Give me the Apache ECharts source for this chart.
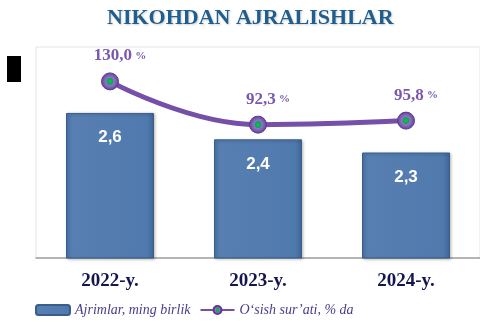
<!DOCTYPE html>
<html>
<head>
<meta charset="utf-8">
<script src="https://cdn.jsdelivr.net/npm/echarts@6/dist/echarts.min.js"></script>
<style>
  html, body { margin: 0; padding: 0; background: #ffffff; }
  #chart { width: 480px; height: 326px; }
</style>
</head>
<body>
<div id="chart"></div>
<script>
// Divorces by year (thousands) and growth rate (%)
const years = ['2022-y.', '2023-y.', '2024-y.'];
const divorces = [2.6, 2.4, 2.3];
const growth = [130.0, 92.3, 95.8];
const seriesNames = ['Ajrimlar, ming birlik', 'O‘sish sur’ati, % da'];
const titleText = 'NIKOHDAN AJRALISHLAR';

const fmt = v => v.toFixed(1).replace('.', ',');

const purple = '#7650A8';
const markerFill = {
  type: 'radial', x: 0.5, y: 0.5, r: 0.5,
  colorStops: [
    { offset: 0, color: '#12c060' },
    { offset: 0.34, color: '#0aa64e' },
    { offset: 0.42, color: '#9474c8' },
    { offset: 0.7, color: '#7d5cb4' },
    { offset: 1, color: '#5e418f' }
  ]
};

const chart = echarts.init(document.getElementById('chart'));
chart.setOption({
  animation: false,
  backgroundColor: '#ffffff',
  title: {
    text: titleText,
    left: 102,
    top: 2,
    textStyle: {
      fontFamily: 'Liberation Serif',
      fontWeight: 'bold',
      fontSize: 22,
      color: '#1F5E8E',
      textShadowColor: 'rgba(0,0,0,0.18)',
      textShadowBlur: 2,
      textShadowOffsetX: 1,
      textShadowOffsetY: 1
    }
  },
  graphic: [
    { type: 'rect', left: 7, top: 56, shape: { width: 14, height: 26 }, style: { fill: '#000000' } }
  ],
  legend: {
    left: 30,
    top: 298,
    itemGap: 9,
    itemWidth: 34,
    itemHeight: 10,
    textStyle: {
      fontFamily: 'Liberation Serif',
      fontStyle: 'italic',
      fontSize: 14,
      color: '#4A3C8C'
    },
    data: seriesNames
  },
  grid: {
    left: 36, right: 0, top: 47, bottom: 68,
    show: true,
    borderColor: '#e4e4e4',
    borderWidth: 1
  },
  xAxis: {
    type: 'category',
    data: years,
    axisTick: { show: false },
    axisLine: { onZero: false, lineStyle: { color: '#a0a0a0', width: 1.5 } },
    axisLabel: {
      margin: 14,
      fontFamily: 'Liberation Serif',
      fontWeight: 'bold',
      fontSize: 19,
      color: '#15154F'
    }
  },
  yAxis: [
    { type: 'value', min: 1.5, max: 3.1, show: false, splitLine: { show: false } },
    { type: 'value', min: -24, max: 160, show: false, splitLine: { show: false } }
  ],
  series: [
    {
      name: seriesNames[0],
      type: 'bar',
      data: divorces,
      barWidth: 88,
      itemStyle: {
        color: {
          type: 'linear', x: 0, y: 0, x2: 1, y2: 0,
          colorStops: [
            { offset: 0, color: '#4B76A8' },
            { offset: 0.08, color: '#577FB2' },
            { offset: 0.92, color: '#5079AD' },
            { offset: 1, color: '#3E6797' }
          ]
        },
        borderColor: '#3A5E8C',
        borderWidth: 1,
        shadowColor: 'rgba(0,0,0,0.25)',
        shadowBlur: 3,
        shadowOffsetX: 1,
        shadowOffsetY: 1
      },
      label: {
        show: true,
        position: 'insideTop',
        distance: 16,
        formatter: p => fmt(p.value),
        fontFamily: 'Liberation Sans',
        fontWeight: 'bold',
        fontSize: 17,
        color: '#ffffff'
      }
    },
    {
      name: seriesNames[1],
      type: 'line',
      yAxisIndex: 1,
      data: growth,
      smooth: 0.45,
      symbol: 'circle',
      symbolSize: 17,
      lineStyle: { color: purple, width: 5 },
      itemStyle: {
        color: markerFill,
        borderColor: '#5a3d8a',
        borderWidth: 1
      },
      label: {
        show: true,
        position: 'top',
        distance: 8,
        offset: [10, 0],
        formatter: p => '{n|' + fmt(p.value) + '} {p|%}',
        rich: {
          n: { fontFamily: 'Liberation Serif', fontWeight: 'bold', fontSize: 17, color: '#7A58B0' },
          p: { fontFamily: 'Liberation Serif', fontWeight: 'bold', fontSize: 11, color: '#7A58B0' }
        }
      }
    }
  ]
});
</script>
</body>
</html>
